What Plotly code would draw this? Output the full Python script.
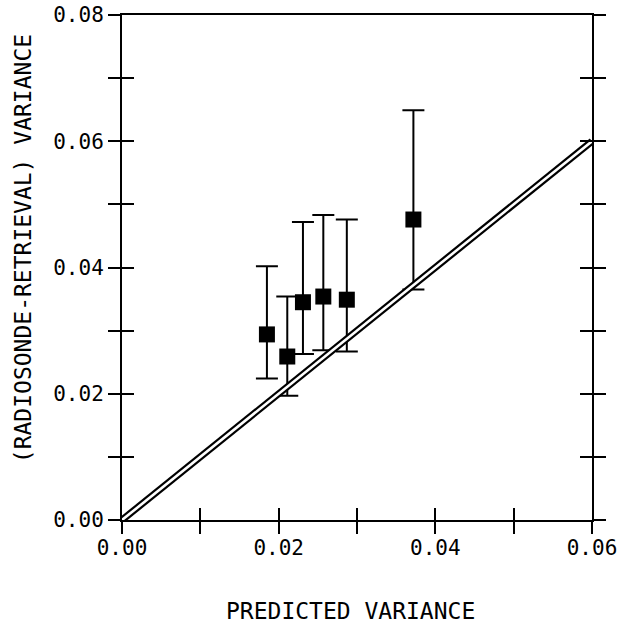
import plotly.graph_objects as go

# Predicted vs. observed (radiosonde - retrieval) variance
predicted = [0.0185, 0.0211, 0.0231, 0.0257, 0.0287, 0.0372]
observed = [0.0294, 0.0259, 0.0345, 0.0354, 0.0349, 0.0476]
err_upper = [0.0402, 0.0354, 0.0472, 0.0483, 0.0476, 0.0649]
err_lower = [0.0224, 0.0197, 0.0263, 0.0269, 0.0267, 0.0365]

x_ticks = [0.00, 0.01, 0.02, 0.03, 0.04, 0.05, 0.06]
x_ticktext = ["0.00", "", "0.02", "", "0.04", "", "0.06"]
y_ticks = [0.00, 0.01, 0.02, 0.03, 0.04, 0.05, 0.06, 0.07, 0.08]
y_ticktext = ["0.00", "", "0.02", "", "0.04", "", "0.06", "", "0.08"]

one_to_one = [0.0, 0.06]

FONT = "DejaVu Sans Mono"
INK = "black"

fig = go.Figure()

fig.add_trace(go.Scatter(
    x=predicted, y=observed, mode="markers",
    marker=dict(symbol="square", size=16, color=INK),
    error_y=dict(
        type="data", symmetric=False,
        array=[u - o for u, o in zip(err_upper, observed)],
        arrayminus=[o - l for o, l in zip(observed, err_lower)],
        color=INK, thickness=2, width=11,
    ),
    showlegend=False, hoverinfo="skip",
))

# double-stroked 1:1 line: a wide black stroke with a white core
fig.add_trace(go.Scatter(x=one_to_one, y=one_to_one, mode="lines",
                         line=dict(color=INK, width=7),
                         showlegend=False, hoverinfo="skip"))
fig.add_trace(go.Scatter(x=one_to_one, y=one_to_one, mode="lines",
                         line=dict(color="white", width=2.6),
                         showlegend=False, hoverinfo="skip"))

# helper trace so the overlay axes (inner halves of the cross ticks) render
fig.add_trace(go.Scatter(x=[None], y=[None], xaxis="x2", yaxis="y2",
                         showlegend=False, hoverinfo="skip"))

tickfont = dict(family=FONT, size=21, color=INK)

fig.update_layout(
    width=621, height=624,
    margin=dict(l=122, r=29, t=15, b=104),
    paper_bgcolor="white", plot_bgcolor="white",
    xaxis=dict(
        range=[0, 0.06], tickvals=x_ticks, ticktext=x_ticktext,
        ticks="outside", ticklen=12, tickwidth=2, tickcolor=INK,
        showline=True, linewidth=2, linecolor=INK, mirror=True,
        showgrid=False, zeroline=False, tickfont=tickfont,
        automargin=False, ticklabelstandoff=-4,
    ),
    yaxis=dict(
        range=[0, 0.08], tickvals=y_ticks, ticktext=y_ticktext,
        ticks="outside", ticklen=12, tickwidth=2, tickcolor=INK,
        showline=True, linewidth=2, linecolor=INK, mirror="allticks",
        showgrid=False, zeroline=False, tickfont=tickfont,
        automargin=False,
    ),
    xaxis2=dict(
        range=[0, 0.06], tickvals=x_ticks, overlaying="x", anchor="y2",
        side="bottom", ticks="inside", ticklen=12, tickwidth=2,
        tickcolor=INK, showticklabels=False, showline=False,
        showgrid=False, zeroline=False, automargin=False,
    ),
    yaxis2=dict(
        range=[0, 0.08], tickvals=y_ticks, overlaying="y", anchor="x2",
        side="left", ticks="inside", ticklen=12, tickwidth=2,
        tickcolor=INK, mirror="allticks", showticklabels=False,
        showline=False, showgrid=False, zeroline=False, automargin=False,
    ),
    annotations=[
        dict(text="PREDICTED VARIANCE", xref="paper", yref="paper",
             x=0.486, y=-0.180, xanchor="center", yanchor="middle",
             showarrow=False, font=dict(family=FONT, size=23, color=INK)),
        dict(text="(RADIOSONDE-RETRIEVAL) VARIANCE", xref="paper", yref="paper",
             x=-0.212, y=0.537, xanchor="center", yanchor="middle",
             textangle=-90, showarrow=False,
             font=dict(family=FONT, size=23, color=INK)),
    ],
)

fig.write_html("out.html")
